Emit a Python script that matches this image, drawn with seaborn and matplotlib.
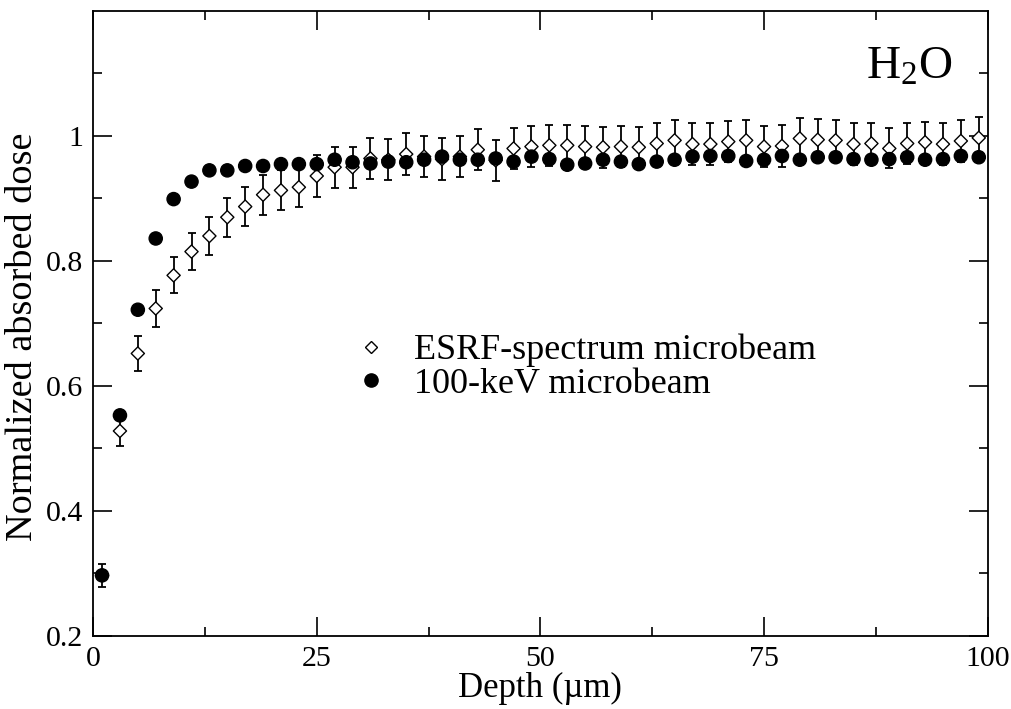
import numpy as np
import pandas as pd
import matplotlib
matplotlib.use("Agg")
import matplotlib.pyplot as plt
import seaborn as sns
from matplotlib.lines import Line2D

depth = [1, 3, 5, 7, 9, 11, 13, 15, 17, 19, 21, 23, 25, 27, 29, 31, 33, 35, 37, 39,
         41, 43, 45, 47, 49, 51, 53, 55, 57, 59, 61, 63, 65, 67, 69, 71, 73, 75, 77, 79,
         81, 83, 85, 87, 89, 91, 93, 95, 97, 99]

esrf_dose = [0.297, 0.528, 0.652, 0.724, 0.777, 0.815, 0.840, 0.870, 0.887, 0.906,
             0.913, 0.918, 0.936, 0.950, 0.950, 0.964, 0.962, 0.971, 0.967, 0.963,
             0.967, 0.978, 0.961, 0.980, 0.983, 0.985, 0.985, 0.983, 0.982, 0.983,
             0.982, 0.988, 0.993, 0.987, 0.987, 0.991, 0.993, 0.983, 0.984, 0.996,
             0.994, 0.993, 0.987, 0.988, 0.980, 0.988, 0.990, 0.987, 0.992, 0.997]

esrf_err = [0.018, 0.024, 0.028, 0.029, 0.029, 0.030, 0.030, 0.031, 0.031, 0.032,
            0.032, 0.032, 0.033, 0.033, 0.033, 0.033, 0.033, 0.033, 0.033, 0.033,
            0.033, 0.033, 0.033, 0.033, 0.033, 0.033, 0.033, 0.033, 0.033, 0.033,
            0.033, 0.033, 0.033, 0.033, 0.033, 0.033, 0.033, 0.033, 0.033, 0.033,
            0.033, 0.033, 0.033, 0.033, 0.032, 0.033, 0.033, 0.033, 0.033, 0.033]

kev_dose = [0.297, 0.553, 0.722, 0.836, 0.899, 0.927, 0.945, 0.945, 0.952, 0.952,
            0.955, 0.955, 0.955, 0.962, 0.958, 0.956, 0.959, 0.958, 0.962, 0.967,
            0.962, 0.962, 0.964, 0.959, 0.967, 0.963, 0.954, 0.956, 0.962, 0.959,
            0.955, 0.959, 0.962, 0.967, 0.968, 0.968, 0.960, 0.962, 0.968, 0.962,
            0.966, 0.966, 0.963, 0.962, 0.963, 0.966, 0.962, 0.963, 0.968, 0.966]

series_names = ["ESRF-spectrum microbeam", "100-keV microbeam"]
x_ticks = [0, 25, 50, 75, 100]
y_ticks = [0.2, 0.4, 0.6, 0.8, 1.0]
y_ticklabels = ["0.2", "0.4", "0.6", "0.8", "1"]

sns.set_style("ticks")
plt.rcParams['font.family'] = ['Liberation Serif', 'DejaVu Serif']
plt.rcParams['mathtext.fontset'] = 'custom'
plt.rcParams['mathtext.rm'] = 'Liberation Serif'
plt.rcParams['mathtext.it'] = 'Liberation Serif:italic'
plt.rcParams['text.color'] = 'black'
plt.rcParams['axes.labelcolor'] = 'black'
plt.rcParams['xtick.color'] = 'black'
plt.rcParams['ytick.color'] = 'black'

df = pd.DataFrame({
    "depth": depth * 2,
    "dose": esrf_dose + kev_dose,
    "series": [series_names[0]] * len(depth) + [series_names[1]] * len(depth),
})

fig = plt.figure(figsize=(10.12, 7.09), dpi=100)
ax = fig.add_axes([0.092, 0.103, 0.884, 0.8815])

ax.errorbar(depth, esrf_dose, yerr=esrf_err, fmt='none', ecolor='black',
            elinewidth=1.3, capsize=3, capthick=1.3, zorder=2)

sns.scatterplot(data=df, x="depth", y="dose", hue="series", style="series",
                hue_order=series_names, style_order=series_names,
                palette={series_names[0]: "white", series_names[1]: "black"},
                markers={series_names[0]: "D", series_names[1]: "o"},
                size="series",
                sizes={series_names[0]: 45, series_names[1]: 90},
                edgecolor="black", linewidth=1.0, ax=ax, zorder=3, legend=False)

for coll in ax.collections:
    coll.set_edgecolor("black")

ax.set_xlim(0, 100)
ax.set_ylim(0.2, 1.2)
ax.set_xticks(x_ticks)
ax.set_xticks([12.5, 37.5, 62.5, 87.5], minor=True)
ax.set_yticks(y_ticks)
ax.set_yticklabels(y_ticklabels)
ax.set_yticks([0.3, 0.5, 0.7, 0.9, 1.1], minor=True)

ax.tick_params(which='both', direction='in', top=True, right=True, width=1.2,
               labelsize=21.5, colors='black', pad=7)
ax.tick_params(which='major', length=13.5)
ax.tick_params(which='minor', length=6.7)
for sp in ax.spines.values():
    sp.set_visible(True)
    sp.set_linewidth(1.3)
    sp.set_color('black')

ax.set_xlabel("Depth (\u00b5m)", fontsize=25, labelpad=0)
ax.set_ylabel("Normalized absorbed dose", fontsize=27.5)
ax.yaxis.set_label_coords(-0.059, 0.478)

ax.text(0.96, 0.891, "H$_{2}$O", transform=ax.transAxes, ha='right', va='baseline',
        fontsize=34, color='black')

handles = [
    Line2D([], [], marker='D', linestyle='none', markerfacecolor='white',
           markeredgecolor='black', markersize=6, markeredgewidth=1.0),
    Line2D([], [], marker='o', linestyle='none', markerfacecolor='black',
           markeredgecolor='black', markersize=9.5),
]
ax.legend(handles, series_names, loc='center left', bbox_to_anchor=(0.29, 0.43),
          frameon=False, fontsize=26, handletextpad=0.7, labelspacing=0.0,
          borderaxespad=0, borderpad=0, handlelength=1.0)

fig.savefig("out.png", dpi=100)
